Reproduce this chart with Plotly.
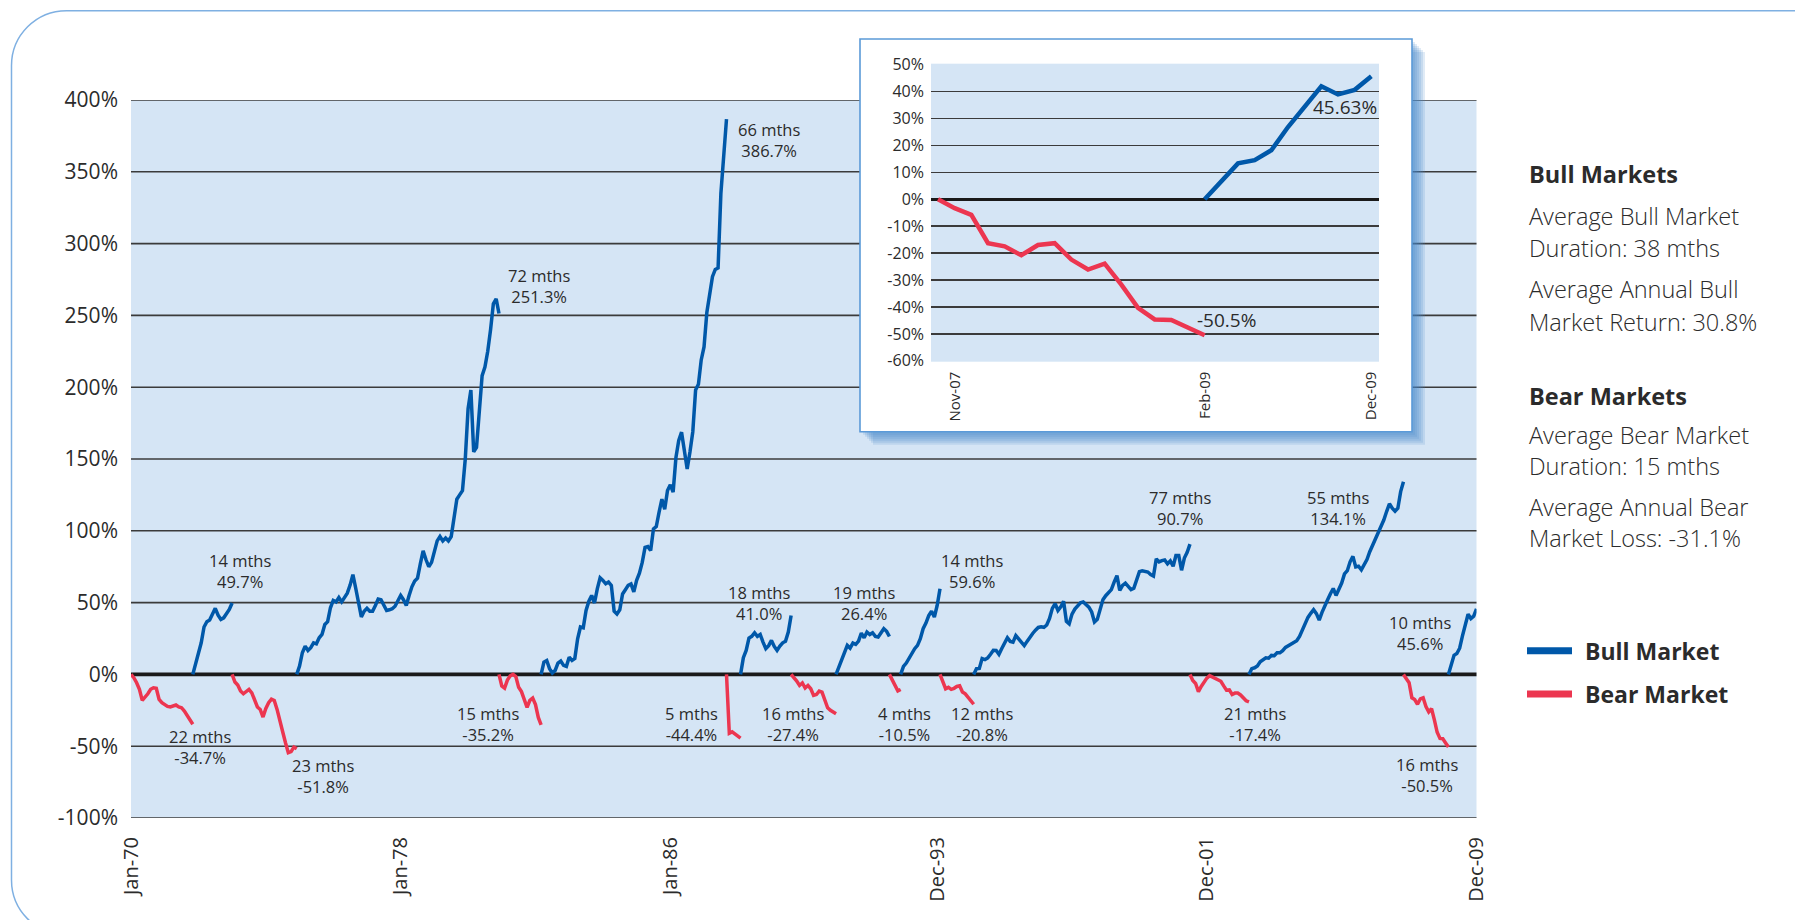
import pandas as pd
import plotly.graph_objects as go

W, H = 1795, 920

# ---------------- data ----------------
MONTHS = pd.date_range("1970-01-01", "2009-12-01", freq="MS").strftime("%b-%y").tolist()
X_TICKS = ["Jan-70", "Jan-78", "Jan-86", "Dec-93", "Dec-01", "Dec-09"]
Y_TICKS = [-100, -50, 0, 50, 100, 150, 200, 250, 300, 350, 400]

bear_1970 = [0, -2.3, -5.8, -10.4, -18.1, -16.2, -13.5, -10.4, -9.3, -9.7, -17.4, -19.7, -21.3, -22.3,
             -22.7, -22.0, -21.3, -22.7, -23.2, -25.5, -28.3, -31.3, -34.7]
bull_1971 = [0, 7, 15, 22, 33, 36.7, 37.8, 41.8, 46, 41.3, 38.3, 39.4, 42.2, 45.2, 49.7]
bear_1973 = [0, -5.3, -7.4, -11.6, -13.5, -11.6, -10.4, -12.8, -18.6, -22.7, -24.4, -29.7, -23.7, -19.7,
             -17.2, -18.1, -24.4, -33.6, -39.9, -47.6, -54.5, -53.8, -50.6, -51.8]
bull_1974 = [0, 5.8, 15.1, 19.7, 16.7, 18.6, 22, 21.3, 25.5, 27.8, 34.8, 36.7, 46.4, 51.5, 50.5, 53.5,
             50.5, 54, 56.6, 62.2, 69.5, 60, 49, 40, 44, 46, 44, 44, 48, 52.5, 52, 48, 44.5, 45, 45.7,
             47.5, 51, 55, 52, 48, 55, 61, 65, 67, 77, 86, 80, 75, 78, 86, 93, 96, 93, 95, 93, 96, 108,
             122, 125, 128, 150, 185, 198, 155, 158, 185, 208, 214, 225, 240, 258, 261.5, 251.3]
bear_1980 = [0, -8, -9.5, -4, -1, 0, -1.5, -9, -12, -18, -23, -18, -16.5, -21, -30, -35.2]
bull_1982 = [0, 8.6, 9.7, 4, 1, 2.8, 7.9, 9.3, 6.3, 5.6, 12, 9.7, 11, 24.8, 33, 32.5, 44.5, 51, 55, 49.7,
             59.6, 67.3, 65.4, 63.1, 64.3, 62, 44, 42, 45, 56, 59, 62, 63, 57.5, 65.5, 70.5, 78, 88.5, 89,
             86.3, 101.4, 103, 113, 122, 115, 128, 132, 127, 151, 163, 168.7, 155, 143, 155, 169, 198,
             202, 219, 228, 252, 265, 277, 282, 283, 335, 364, 386.7]
bear_1987 = [0, -41, -40, -41.5, -43, -44.4]
bull_1988 = [0, 11.6, 16.7, 25.3, 26.5, 29, 26.5, 27.8, 22.5, 17.9, 20, 23.7, 19.5, 16.7, 19.7, 22, 23,
             29.5, 41.0]
bear_1989 = [0, -2, -4.6, -7.7, -6, -9.5, -7.7, -10, -14.6, -14, -11.6, -12.3, -18, -23.2, -25, -26, -27.4]
bull_1990 = [0, 5.1, 10.4, 13.9, 20.2, 18.3, 21.8, 20.9, 23.2, 28.8, 25.5, 29.5, 27.8, 29, 26.5, 26,
             29.5, 31.8, 30, 26.4]
bear_1992 = [0, -4, -7.5, -11.5, -10.5]
bull_1992 = [0, 5.6, 7.9, 11.4, 13.9, 17.9, 20.2, 24.8, 31.8, 35.7, 41, 44, 40, 48, 59.6]
bear_1994 = [0, -4.6, -10, -9, -10.4, -9.7, -8.4, -7.9, -12.3, -13.5, -15.8, -18, -20.8]
bull_1995 = [0, 4, 4.2, 11, 10.3, 11.5, 14, 16.8, 16.7, 14, 18, 21.5, 25.5, 23, 22.4, 27, 24.8, 22.6,
             20, 23, 26, 28.5, 30.8, 32.7, 33.2, 32.8, 34.4, 39, 46, 49.3, 44.5, 47, 51, 37, 35.2, 42,
             45.5, 48, 49.8, 50.4, 48.3, 46.8, 43.5, 36.5, 38.3, 44.5, 51.9, 54.8, 56.8, 59, 64.3, 68.8,
             58.5, 62, 63.5, 61.5, 59, 60, 66, 71.6, 72.2, 71.8, 71.3, 69.6, 68.5, 80.5, 78.3, 79.2,
             79.7, 77, 79, 75.3, 82.8, 82.8, 72.5, 81, 85, 90.7]
bear_2001 = [0, -4.3, -6.3, -12, -8.4, -5, -2.6, -0.9, -1.9, -2.8, -3.6, -4.8, -8, -11, -10.8, -14, -13,
             -13, -14.3, -16.6, -18.4, -19.2]
bull_2003 = [0, 4, 4.6, 5.9, 8.8, 10.1, 11.6, 11.3, 13.2, 13, 15, 15, 16.5, 18.8, 19.8, 21, 22.3, 23.4,
             26.4, 31, 36.6, 39.7, 42.5, 45, 42.3, 37.8, 43.2, 48.3, 52, 56.2, 59.8, 55, 59, 63.6, 70,
             72.2, 78.4, 82.2, 74.8, 75.3, 72.8, 76, 80, 85.4, 90, 94.3, 98.6, 102.6, 107.5, 113.4,
             118.8, 115.7, 113.7, 115.7, 127.3, 134.1]
bear_2007 = [0, -3.3, -5.8, -16.3, -17.5, -20.8, -17, -16.3, -22.4, -26.1, -23.9, -31.7, -40.3, -44.6,
             -44.8, -47.7, -50.5]
bull_2009 = [0, 6.9, 13.3, 14.5, 18.2, 26.8, 34.2, 41.9, 38.9, 40.6, 45.63]

seg_kind = ["bear", "bull", "bear", "bull", "bear", "bull", "bear", "bull", "bear",
            "bull", "bear", "bull", "bear", "bull", "bear", "bull", "bear", "bull"]
seg_start = ["Jan-70", "Nov-71", "Jan-73", "Dec-74", "Dec-80", "Mar-82", "Sep-87", "Feb-88", "Aug-89",
             "Dec-90", "Jul-92", "Nov-92", "Jan-94", "Jan-95", "Jun-01", "Mar-03", "Oct-07", "Feb-09"]
seg_values = [bear_1970, bull_1971, bear_1973, bull_1974, bear_1980, bull_1982, bear_1987, bull_1988,
              bear_1989, bull_1990, bear_1992, bull_1992, bear_1994, bull_1995, bear_2001, bull_2003,
              bear_2007, bull_2009]
seg_label = ["22 mths<br>-34.7%", "14 mths<br>49.7%", "23 mths<br>-51.8%", "72 mths<br>251.3%",
             "15 mths<br>-35.2%", "66 mths<br>386.7%", "5 mths<br>-44.4%", "18 mths<br>41.0%",
             "16 mths<br>-27.4%", "19 mths<br>26.4%", "4 mths<br>-10.5%", "14 mths<br>59.6%",
             "12 mths<br>-20.8%", "77 mths<br>90.7%", "21 mths<br>-17.4%", "55 mths<br>134.1%",
             "16 mths<br>-50.5%", "10 mths<br>45.6%"]

INSET_MONTHS = MONTHS[MONTHS.index("Oct-07"):]
INSET_X_TICKS = ["Nov-07", "Feb-09", "Dec-09"]
INSET_Y_TICKS = [50, 40, 30, 20, 10, 0, -10, -20, -30, -40, -50, -60]
inset_labels = ["-50.5%", "45.63%"]

stats_lines = [("Bull Markets", True), ("Average Bull Market", False), ("Duration: 38 mths", False),
               ("Average Annual Bull", False), ("Market Return: 30.8%", False),
               ("Bear Markets", True), ("Average Bear Market", False), ("Duration: 15 mths", False),
               ("Average Annual Bear", False), ("Market Loss: -31.1%", False)]
legend_items = ["Bull Market", "Bear Market"]

# ---------------- styles / layout positions (pixels) ----------------
BULL = "#0058a9"
BEAR = "#ec3650"
BG = "#d5e5f5"
GRID = "#3b3b3b"
TXT = "#2b2b2b"
FONT = "Open Sans"

label_pos = [(200, 747), (240, 571), (323, 775.5), (539, 286), (487.5, 724), (768.5, 140.5),
             (691.7, 724), (758.5, 603.3), (793, 724), (863.5, 603), (904, 723.7), (972, 571.2),
             (982, 723.7), (1179.5, 508), (1254.5, 723.7), (1337.5, 508), (1427, 774.5), (1419.5, 633)]
inset_label_pos = [(1226, 320), (1344.7, 107.3)]
stats_y = [173.6, 215.7, 248, 289, 321.7, 395.5, 434.6, 466, 506.5, 538]
legend_y = [650.8, 694]


def px(x):
    return x / W


def py(y):
    return 1 - y / H


MAIN_L, MAIN_R, MAIN_T, MAIN_B = 131, 1476.5, 100, 818
IN_L, IN_R, IN_T, IN_B = 931, 1379, 63.7, 361.7
BOX_L, BOX_R, BOX_T, BOX_B = 860, 1412, 39, 431.7

fig = go.Figure()

for kind, start, vals in zip(seg_kind, seg_start, seg_values):
    i0 = MONTHS.index(start)
    fig.add_trace(go.Scatter(
        x=MONTHS[i0:i0 + len(vals)], y=vals, mode="lines",
        line=dict(color=BULL if kind == "bull" else BEAR, width=3.5),
        hoverinfo="skip", showlegend=False, xaxis="x", yaxis="y"))

# inset
n_bear = len(bear_2007)
fig.add_trace(go.Scatter(x=INSET_MONTHS[:n_bear], y=bear_2007, mode="lines",
                         line=dict(color=BEAR, width=4.5), showlegend=False, hoverinfo="skip",
                         xaxis="x2", yaxis="y2"))
fig.add_trace(go.Scatter(x=INSET_MONTHS[n_bear - 1:], y=bull_2009, mode="lines",
                         line=dict(color=BULL, width=4.5), showlegend=False, hoverinfo="skip",
                         xaxis="x2", yaxis="y2"))

shapes = []
# outer rounded border
R = 55
k = 0.5523 * R
L0, T0, B0 = 11.5, 10.7, 935
path = (f"M {px(1900)},{py(T0)} L {px(L0 + R)},{py(T0)} "
        f"C {px(L0 + R - k)},{py(T0)} {px(L0)},{py(T0 + R - k)} {px(L0)},{py(T0 + R)} "
        f"L {px(L0)},{py(B0 - R)} "
        f"C {px(L0)},{py(B0 - R + k)} {px(L0 + R - k)},{py(B0)} {px(L0 + R)},{py(B0)} "
        f"L {px(1900)},{py(B0)}")
shapes.append(dict(type="path", path=path, xref="paper", yref="paper",
                   line=dict(color="#7fb0e2", width=1.5), layer="below"))

# main gridlines
for v in Y_TICKS:
    shapes.append(dict(type="line", xref="paper", yref="y", x0=px(MAIN_L), x1=px(MAIN_R), y0=v, y1=v,
                       line=dict(color="#1a1a1a" if v == 0 else GRID, width=3.6 if v == 0 else 1.6),
                       layer="below"))

# inset shadow
for d in [3, 5, 7, 9, 11, 13]:
    shapes.append(dict(type="rect", xref="paper", yref="paper",
                       x0=px(BOX_L + d), x1=px(BOX_R + d), y0=py(BOX_B + d), y1=py(BOX_T + d),
                       fillcolor="#4a86c8", opacity=0.17, line=dict(width=0), layer="below"))
# inset box
shapes.append(dict(type="rect", xref="paper", yref="paper",
                   x0=px(BOX_L), x1=px(BOX_R), y0=py(BOX_B), y1=py(BOX_T),
                   fillcolor="white", line=dict(color="#5b9ad8", width=1.6), layer="below"))

# legend swatches
for item, y, col in zip(legend_items, legend_y, [BULL, BEAR]):
    shapes.append(dict(type="line", xref="paper", yref="paper", x0=px(1527), x1=px(1572),
                       y0=py(y), y1=py(y), line=dict(color=col, width=7)))

annotations = []
for txt, (x, y) in zip(seg_label, label_pos):
    annotations.append(dict(text=txt, x=px(x), y=py(y), xref="paper", yref="paper", showarrow=False,
                            xanchor="center", yanchor="middle", align="center",
                            font=dict(family=FONT, size=16.5, color=TXT)))
for txt, (x, y) in zip(inset_labels, inset_label_pos):
    annotations.append(dict(text=txt, x=px(x), y=py(y), xref="paper", yref="paper", showarrow=False,
                            xanchor="center", yanchor="middle",
                            font=dict(family=FONT, size=19, color=TXT)))
for (txt, bold), y in zip(stats_lines, stats_y):
    annotations.append(dict(text=f"<b>{txt}</b>" if bold else txt, x=px(1527), y=py(y),
                            xref="paper", yref="paper", showarrow=False, xanchor="left",
                            yanchor="middle",
                            font=dict(family=FONT, size=23.5, color=TXT,
                                      weight=700 if bold else 300)))
for item, y in zip(legend_items, legend_y):
    annotations.append(dict(text=f"<b>{item}</b>", x=px(1583), y=py(y), xref="paper", yref="paper",
                            showarrow=False, xanchor="left", yanchor="middle",
                            font=dict(family=FONT, size=23, color=TXT)))

fig.update_layout(
    width=W, height=H, margin=dict(l=0, r=0, t=0, b=0, pad=0, autoexpand=False),
    paper_bgcolor="white", plot_bgcolor=BG,
    font=dict(family=FONT, color=TXT),
    shapes=shapes, annotations=annotations, showlegend=False,
    xaxis=dict(domain=[px(MAIN_L), px(MAIN_R)], type="category", categoryorder="array",
               categoryarray=MONTHS, range=[0, len(MONTHS) - 1], tickmode="array", tickvals=X_TICKS,
               ticktext=X_TICKS, tickangle=-90, showgrid=False, zeroline=False, showline=False,
               ticks="", ticklabelstandoff=14, tickfont=dict(size=20, color=TXT), fixedrange=True,
               automargin=False),
    yaxis=dict(domain=[py(MAIN_B), py(MAIN_T)], range=[-100, 400], tickmode="array",
               tickvals=Y_TICKS, ticktext=[f"{v}%" for v in Y_TICKS], showgrid=False, zeroline=False,
               showline=False, ticks="", ticklabelstandoff=12, tickfont=dict(size=21, color=TXT),
               fixedrange=True, automargin=False),
    xaxis2=dict(domain=[px(IN_L), px(IN_R)], anchor="y2", type="category", categoryorder="array",
                categoryarray=INSET_MONTHS, range=[-0.42, len(INSET_MONTHS) - 0.54],
                tickmode="array", tickvals=INSET_X_TICKS, ticktext=INSET_X_TICKS, tickangle=-90,
                showgrid=False, zeroline=False, showline=False, ticks="", ticklabelstandoff=6,
                tickfont=dict(size=15, color=TXT), fixedrange=True, automargin=False),
    yaxis2=dict(domain=[py(IN_B), py(IN_T)], anchor="x2", range=[-60.3, 50.3], tickmode="array",
                tickvals=INSET_Y_TICKS, ticktext=[f"{v}%" for v in INSET_Y_TICKS], showgrid=True,
                gridcolor=GRID, gridwidth=1.5, zeroline=True, zerolinecolor="#1a1a1a",
                zerolinewidth=3.2, showline=False, ticks="", ticklabelstandoff=6,
                tickfont=dict(size=16, color=TXT), fixedrange=True, automargin=False),
)

fig.write_html("out.html", config={"displayModeBar": False, "staticPlot": True},
               post_script="document.body.style.margin='0';document.body.style.overflow='hidden';")
